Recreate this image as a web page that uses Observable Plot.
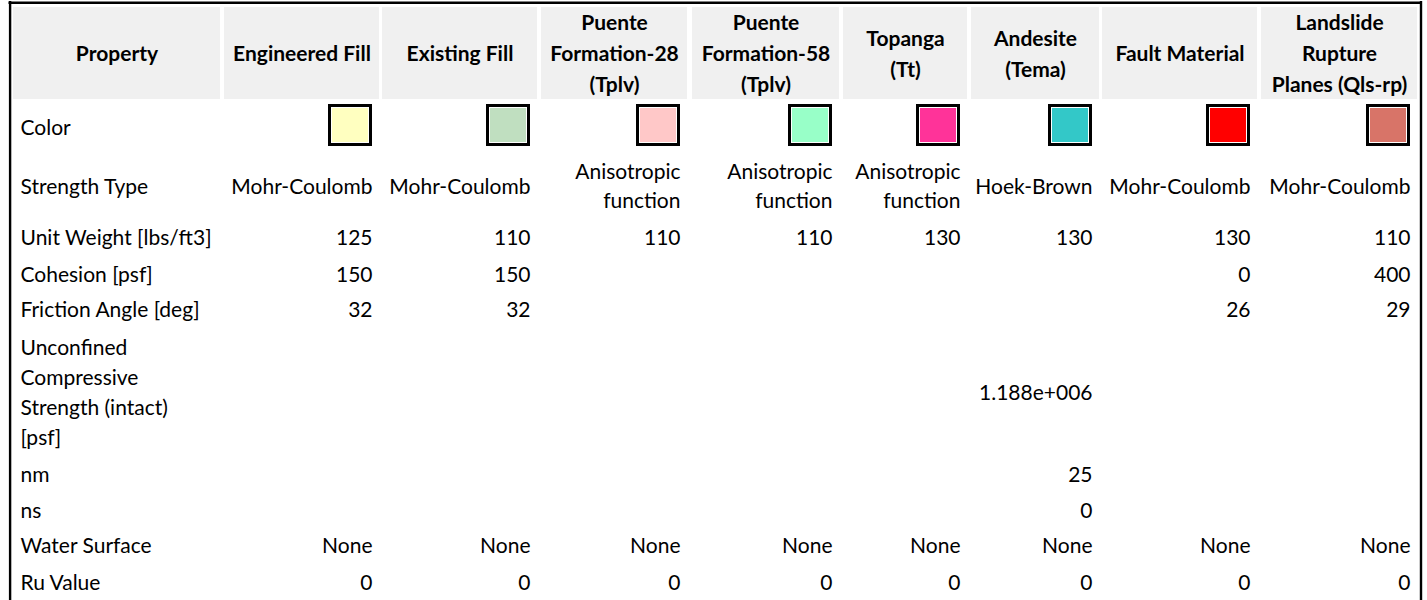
<!DOCTYPE html>
<html>
<head>
<meta charset="utf-8">
<script src="https://cdn.jsdelivr.net/npm/d3@7"></script>
<script src="https://cdn.jsdelivr.net/npm/@observablehq/plot@0.6"></script>
<style>
  html, body { margin: 0; padding: 0; background: #fff; }
  #chart svg { display: block; }
</style>
</head>
<body>
<div id="chart"></div>
<script>
// ---------- data ----------
const headerFirst = "Property";
const materials = [
  "Engineered Fill",
  "Existing Fill",
  "Puente\nFormation-28\n(Tplv)",
  "Puente\nFormation-58\n(Tplv)",
  "Topanga\n(Tt)",
  "Andesite\n(Tema)",
  "Fault Material",
  "Landslide\nRupture\nPlanes (Qls-rp)"
];
const propertyLabels = [
  "Color",
  "Strength Type",
  "Unit Weight [lbs/ft3]",
  "Cohesion [psf]",
  "Friction Angle [deg]",
  "Unconfined\nCompressive\nStrength (intact)\n[psf]",
  "nm",
  "ns",
  "Water Surface",
  "Ru Value"
];
const materialColors = ["#ffffc0", "#c0dfc0", "#ffc8c8", "#98ffc8", "#ff3399", "#33c8c8", "#ff0000", "#d87468"];
const strengthType = ["Mohr-Coulomb", "Mohr-Coulomb", "Anisotropic\nfunction", "Anisotropic\nfunction", "Anisotropic\nfunction", "Hoek-Brown", "Mohr-Coulomb", "Mohr-Coulomb"];
const unitWeight = [125, 110, 110, 110, 130, 130, 130, 110];
const cohesion = [150, 150, null, null, null, null, 0, 400];
const frictionAngle = [32, 32, null, null, null, null, 26, 29];
const ucsIntact = [null, null, null, null, null, 1.188e6, null, null];
const nm = [null, null, null, null, null, 25, null, null];
const ns = [null, null, null, null, null, 0, null, null];
const waterSurface = ["None", "None", "None", "None", "None", "None", "None", "None"];
const ruValue = [0, 0, 0, 0, 0, 0, 0, 0];

// ---------- layout ----------
const W = 1427, H = 600;
const colLeft  = [13, 224, 382, 541, 692, 843, 971, 1102, 1261];
const colRight = [220, 379, 537, 687, 839, 967, 1099, 1257, 1417];
const headerTop = 7, headerBottom = 99, headerCenter = 51;
const rowCenters = [125, 184, 235, 272, 307, 390, 472, 508, 543, 580];
const pad = 7;
const swatchW = 44, swatchTop = 104, swatchBottom = 146;
const fontSize = 21;
const font = "Lato, 'Noto Sans', sans-serif";

function fmtExp(v) {
  const [m, e] = v.toExponential(3).split("e");
  return `${m}e${e[0]}${e.slice(1).padStart(3, "0")}`;
}
const fmt = v => v == null ? null : (typeof v === "number" && Math.abs(v) >= 1e5 ? fmtExp(v) : String(v));

const rowValues = [null, strengthType, unitWeight, cohesion, frictionAngle, ucsIntact, nm, ns, waterSurface, ruValue];

// build tables from arrays
const headerCells = [headerFirst, ...materials].map((t, i) => ({
  x1: colLeft[i], x2: colRight[i], cx: (colLeft[i] + colRight[i]) / 2, text: t
}));
const labelCells = propertyLabels.map((t, r) => ({x: colLeft[0] + pad, y: rowCenters[r], text: t}));
const valueCells = [];
rowValues.forEach((vals, r) => {
  if (!vals) return;
  vals.forEach((v, c) => {
    const t = fmt(v);
    if (t != null) valueCells.push({x: colRight[c + 1] - pad, y: rowCenters[r], text: t});
  });
});
const swatches = materialColors.map((col, c) => ({
  x1: colRight[c + 1] - pad - swatchW, x2: colRight[c + 1] - pad, y1: swatchTop, y2: swatchBottom, fill: col
}));

const chart = Plot.plot({
  width: W, height: H,
  margin: 0,
  x: {type: "linear", domain: [0, W], range: [0, W], axis: null},
  y: {type: "linear", domain: [0, H], range: [0, H], axis: null},
  style: {background: "#fff", fontFamily: font},
  marks: [
    // header backgrounds
    Plot.rect(headerCells, {x1: "x1", x2: "x2", y1: () => headerTop, y2: () => headerBottom, fill: "#f0f0f0"}),
    // header text
    Plot.text(headerCells, {
      x: "cx", y: () => headerCenter, text: "text",
      fontWeight: "bold", fontSize, fontFamily: font, fill: "#000",
      lineAnchor: "middle", lineHeight: 31 / fontSize
    }),
    // color swatches: black frame, white inner line, fill
    Plot.rect(swatches, {x1: "x1", x2: "x2", y1: "y1", y2: "y2", fill: "#000"}),
    Plot.rect(swatches, {x1: d => d.x1 + 3, x2: d => d.x2 - 3, y1: d => d.y1 + 3, y2: d => d.y2 - 3, fill: "#fff"}),
    Plot.rect(swatches, {x1: d => d.x1 + 4, x2: d => d.x2 - 4, y1: d => d.y1 + 4, y2: d => d.y2 - 4, fill: "fill"}),
    // row labels
    Plot.text(labelCells, {
      x: "x", y: "y", text: "text", textAnchor: "start",
      fontSize, fontFamily: font, fill: "#000",
      lineAnchor: "middle", lineHeight: 30 / fontSize
    }),
    // values
    Plot.text(valueCells, {
      x: "x", y: "y", text: "text", textAnchor: "end",
      fontSize, fontFamily: font, fill: "#000",
      lineAnchor: "middle", lineHeight: 29 / fontSize
    }),
    // outer table border
    Plot.ruleY([2.2], {x1: 8.5, x2: 1421.5, stroke: "#000", strokeWidth: 2.5}),
    Plot.ruleX([9.6], {y1: 1, y2: H, stroke: "#000", strokeWidth: 2.4}),
    Plot.ruleX([1420.5], {y1: 1, y2: H, stroke: "#000", strokeWidth: 2.4})
  ]
});
document.getElementById("chart").appendChild(chart);
</script>
</body>
</html>
